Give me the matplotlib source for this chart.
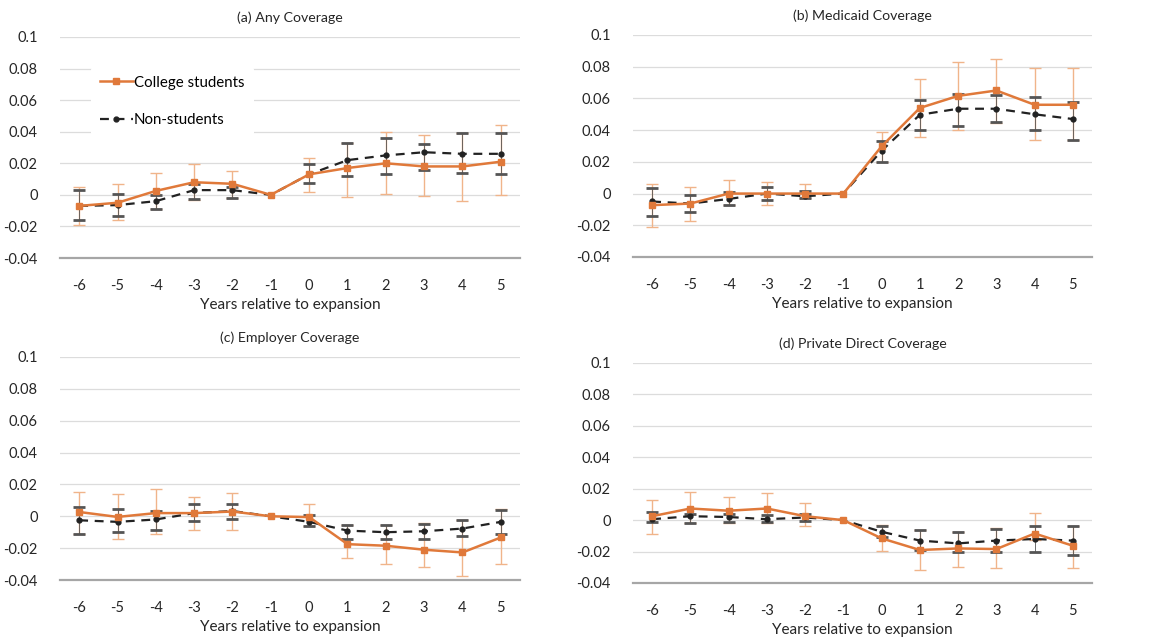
import matplotlib
matplotlib.use("Agg")
import matplotlib.pyplot as plt
import numpy as np

plt.rcParams['font.family'] = ['Lato', 'DejaVu Sans']

years = [-6, -5, -4, -3, -2, -1, 0, 1, 2, 3, 4, 5]
titles = ["(a) Any Coverage", "(b) Medicaid Coverage",
          "(c) Employer Coverage", "(d) Private Direct Coverage"]
ytick_vals = [-0.04, -0.02, 0, 0.02, 0.04, 0.06, 0.08, 0.1]
ytick_labels = ["-0.04", "-0.02", "0", "0.02", "0.04", "0.06", "0.08", "0.1"]
xlabel = "Years relative to expansion"
legend_labels = ["College students", "Non-students"]

# (a) Any coverage
a_col = [-0.007, -0.005, 0.0025, 0.008, 0.007, 0.0, 0.013, 0.017, 0.020, 0.018, 0.018, 0.021]
a_col_hi = [0.005, 0.007, 0.014, 0.0195, 0.015, 0.0, 0.0235, 0.033, 0.040, 0.038, 0.039, 0.044]
a_col_lo = [-0.019, -0.016, -0.009, -0.0035, -0.002, 0.0, 0.002, -0.0015, 0.0005, -0.001, -0.004, 0.0]
a_non = [-0.007, -0.0065, -0.004, 0.003, 0.003, 0.0, 0.013, 0.022, 0.025, 0.027, 0.026, 0.026]
a_non_hi = [0.003, 0.0005, 0.0, 0.007, 0.005, 0.0, 0.0195, 0.033, 0.036, 0.032, 0.039, 0.039]
a_non_lo = [-0.016, -0.0135, -0.009, -0.0025, -0.002, 0.0, 0.0075, 0.012, 0.0135, 0.0155, 0.014, 0.013]

# (b) Medicaid coverage
b_col = [-0.0073, -0.0063, 0.0, 0.0, 0.0, 0.0, 0.0298, 0.054, 0.0616, 0.065, 0.056, 0.056]
b_col_hi = [0.006, 0.004, 0.0088, 0.0073, 0.006, 0.0, 0.0386, 0.0723, 0.083, 0.0847, 0.079, 0.079]
b_col_lo = [-0.021, -0.017, -0.007, -0.0073, -0.003, 0.0, 0.020, 0.0356, 0.040, 0.0444, 0.034, 0.034]
b_non = [-0.005, -0.0063, -0.0034, 0.0, -0.0017, 0.0, 0.027, 0.0497, 0.0535, 0.0535, 0.050, 0.047]
b_non_hi = [0.0036, -0.0006, 0.001, 0.004, 0.0015, 0.0, 0.033, 0.059, 0.063, 0.062, 0.0608, 0.058]
b_non_lo = [-0.0143, -0.0115, -0.007, -0.004, -0.003, 0.0, 0.020, 0.040, 0.0428, 0.045, 0.040, 0.034]

# (c) Employer coverage
c_col = [0.0027, -0.0004, 0.002, 0.002, 0.003, 0.0, -0.0005, -0.0175, -0.0185, -0.021, -0.0227, -0.0133]
c_col_hi = [0.015, 0.0137, 0.0169, 0.012, 0.0146, 0.0, 0.0075, -0.0056, -0.0056, -0.004, -0.0025, 0.0048]
c_col_lo = [-0.011, -0.014, -0.011, -0.0083, -0.0088, 0.0, -0.0062, -0.026, -0.030, -0.0317, -0.0375, -0.030]
c_non = [-0.0025, -0.0035, -0.002, 0.002, 0.0033, 0.0, -0.0035, -0.009, -0.010, -0.0094, -0.0077, -0.0035]
c_non_hi = [0.006, 0.0048, 0.0033, 0.0075, 0.0075, 0.0, 0.0006, -0.0056, -0.0056, -0.005, -0.0025, 0.0037]
c_non_lo = [-0.011, -0.0098, -0.0088, -0.003, -0.002, 0.0, -0.006, -0.014, -0.014, -0.014, -0.0125, -0.011]

# (d) Private direct coverage
d_col = [0.0025, 0.0074, 0.006, 0.0074, 0.0025, 0.0, -0.0116, -0.019, -0.018, -0.0184, -0.0085, -0.0163]
d_col_hi = [0.0127, 0.018, 0.015, 0.017, 0.011, 0.0, -0.003, -0.006, -0.0074, -0.005, 0.0046, -0.004]
d_col_lo = [-0.009, -0.002, -0.002, -0.002, -0.004, 0.0, -0.0197, -0.0317, -0.0296, -0.0307, -0.0127, -0.0307]
d_non = [0.0006, 0.0025, 0.002, 0.0006, 0.0017, 0.0, -0.0074, -0.013, -0.0148, -0.013, -0.012, -0.013]
d_non_hi = [0.005, 0.004, 0.004, 0.003, 0.004, 0.0, -0.0036, -0.0063, -0.0074, -0.0057, -0.004, -0.0036]
d_non_lo = [-0.001, -0.0015, -0.001, -0.001, -0.0005, 0.0, -0.0106, -0.019, -0.0205, -0.0205, -0.0205, -0.022]

panels = [
    (a_col, a_col_lo, a_col_hi, a_non, a_non_lo, a_non_hi),
    (b_col, b_col_lo, b_col_hi, b_non, b_non_lo, b_non_hi),
    (c_col, c_col_lo, c_col_hi, c_non, c_non_lo, c_non_hi),
    (d_col, d_col_lo, d_col_hi, d_non, d_non_lo, d_non_hi),
]

W, H = 1151, 639
fig = plt.figure(figsize=(W / 100, H / 100), dpi=100)
boxes = [(60, 37, 520, 258), (633, 35, 1092, 257), (60, 357, 520, 580), (633, 363, 1092, 583)]

ORANGE = "#E0793A"
ORANGE_LIGHT = "#F0B48A"
TXT = "#262626"
x = np.array(years)

for i, (box, data) in enumerate(zip(boxes, panels)):
    x0, y0, x1, y1 = box
    ax = fig.add_axes([x0 / W, 1 - y1 / H, (x1 - x0) / W, (y1 - y0) / H])
    col, col_lo, col_hi, non, non_lo, non_hi = [np.array(v) for v in data]
    mask = x != -1
    ax.errorbar(x[mask], col[mask],
                yerr=[col[mask] - col_lo[mask], col_hi[mask] - col[mask]],
                fmt='none', ecolor=ORANGE_LIGHT, elinewidth=1.0, capsize=4, capthick=1.0, zorder=2)
    ax.errorbar(x[mask], non[mask],
                yerr=[non[mask] - non_lo[mask], non_hi[mask] - non[mask]],
                fmt='none', ecolor="#555555", elinewidth=0.6, capsize=4, capthick=2.0, zorder=2)
    l1, = ax.plot(x, col, '-', color=ORANGE, lw=1.8, marker='s', ms=4,
                  mfc=ORANGE, mec=ORANGE, zorder=4, label=legend_labels[0])
    l2, = ax.plot(x, non, '--', color="#222222", lw=1.6, dashes=(4, 3), marker='o', ms=3.5,
                  mfc="#222222", mec="#222222", zorder=3, label=legend_labels[1])

    ax.set_xlim(-6.5, 5.5)
    ax.set_ylim(-0.04, 0.1)
    ax.set_yticks(ytick_vals)
    ax.set_yticklabels(ytick_labels)
    ax.set_xticks(years)
    ax.set_xticklabels([str(v) for v in years])
    ax.tick_params(axis='both', length=0, labelsize=10.5, colors=TXT)
    ax.tick_params(axis='y', pad=16)
    ax.tick_params(axis='x', pad=15)
    ax.grid(axis='y', color="#DCDCDC", lw=0.9)
    ax.set_axisbelow(True)
    for s in ['top', 'right', 'left']:
        ax.spines[s].set_visible(False)
    ax.spines['bottom'].set_color("#A6A6A6")
    ax.spines['bottom'].set_linewidth(1.6)
    ax.spines['bottom'].set_zorder(1)
    ax.set_xlabel(xlabel, fontsize=11, color=TXT, labelpad=4)
    ax.set_title(titles[i], fontsize=10.2, color=TXT, pad=11)

    if i == 0:
        leg = ax.legend(handles=[l1, l2], loc='upper left', bbox_to_anchor=(0.05, 0.90),
                        frameon=True, fontsize=10.8, handlelength=2.2, handletextpad=0.1,
                        labelspacing=1.55, borderpad=0.6)
        leg.get_frame().set_facecolor('white')
        leg.get_frame().set_edgecolor('none')
        leg.get_frame().set_alpha(1.0)

fig.savefig("out.png", dpi=100)
